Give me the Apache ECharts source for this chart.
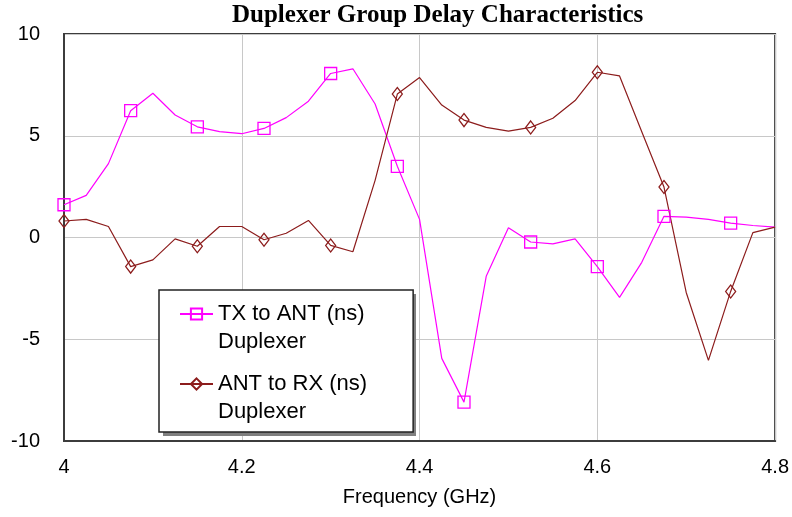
<!DOCTYPE html>
<html>
<head>
<meta charset="utf-8">
<title>Duplexer Group Delay Characteristics</title>
<script src="https://cdn.jsdelivr.net/npm/echarts@6/dist/echarts.min.js"></script>
<style>
  html, body { margin: 0; padding: 0; background: #fff; }
  #chart { width: 792px; height: 517px; }
</style>
</head>
<body>
<div id="chart"></div>
<script>
// frequency points (GHz)
var freq = [4.000, 4.025, 4.050, 4.075, 4.100, 4.125, 4.150, 4.175, 4.200, 4.225, 4.250,
            4.275, 4.300, 4.325, 4.350, 4.375, 4.400, 4.425, 4.450, 4.475, 4.500, 4.525,
            4.550, 4.575, 4.600, 4.625, 4.650, 4.675, 4.700, 4.725, 4.750, 4.775, 4.800];
// group delay, ns
var txDelay = [1.61, 2.07, 3.63, 6.23, 7.09, 6.02, 5.44, 5.20, 5.10, 5.36, 5.89,
               6.70, 8.06, 8.29, 6.56, 3.50, 0.89, -5.94, -8.09, -1.91, 0.48, -0.22,
               -0.31, -0.07, -1.43, -2.94, -1.22, 1.04, 1.00, 0.89, 0.71, 0.59, 0.51];
var rxDelay = [0.81, 0.89, 0.54, -1.43, -1.10, -0.07, -0.43, 0.54, 0.54, -0.11, 0.21,
               0.84, -0.39, -0.70, 2.81, 7.05, 7.86, 6.51, 5.77, 5.41, 5.23, 5.41,
               5.86, 6.73, 8.12, 7.94, 5.20, 2.48, -2.70, -6.04, -2.65, 0.24, 0.51];
var seriesNames = ['TX to ANT (ns)', 'ANT to RX (ns)'];
var yTicks = [-10, -5, 0, 5, 10];

var markerStep = 3; // a marker on every 3rd point

function buildData(values) {
  var out = [];
  for (var i = 0; i < freq.length; i++) {
    var item = { value: [freq[i], values[i]] };
    if (i % markerStep !== 0) {
      item.symbol = 'none';
    }
    out.push(item);
  }
  return out;
}

var chart = echarts.init(document.getElementById('chart'), null, { renderer: 'canvas' });

var option = {
  backgroundColor: '#fff',
  animation: false,
  title: {
    text: 'Duplexer Group Delay Characteristics',
    left: 227,
    top: -2,
    textStyle: {
      fontFamily: 'Liberation Serif',
      fontWeight: 'bold',
      fontSize: 25,
      color: '#000'
    }
  },
  grid: {
    left: 64,
    right: 16,
    top: 34,
    bottom: 76,
    show: true,
    borderColor: '#3c3c3c',
    borderWidth: 2,
    backgroundColor: '#fff'
  },
  // hard drop shadow behind the legend box
  graphic: [{
    type: 'rect',
    z: 3,
    silent: true,
    shape: { x: 163, y: 294, width: 253, height: 142 },
    style: { fill: '#7f7f7f' }
  }],
  legend: {
    orient: 'vertical',
    left: 159,
    top: 290,
    padding: [-18, 46, 6, 20],
    itemGap: -14,
    itemWidth: 33,
    itemHeight: 14,
    selectedMode: false,
    backgroundColor: '#fff',
    borderColor: '#222',
    borderWidth: 1.5,
    formatter: function (name) {
      return '\n' + name + '\nDuplexer';
    },
    textStyle: {
      fontFamily: 'Liberation Sans',
      fontSize: 22,
      lineHeight: 28,
      color: '#000'
    },
    data: seriesNames
  },
  xAxis: {
    type: 'value',
    min: 4,
    max: 4.8,
    interval: 0.2,
    name: 'Frequency (GHz)',
    nameLocation: 'middle',
    nameGap: 46,
    nameTextStyle: {
      fontFamily: 'Liberation Sans',
      fontSize: 20,
      color: '#000'
    },
    axisLine: { show: true, onZero: false, lineStyle: { color: '#3c3c3c', width: 2 } },
    axisTick: { show: false },
    axisLabel: {
      margin: 16,
      fontFamily: 'Liberation Sans',
      fontSize: 20,
      color: '#000'
    },
    splitLine: { show: true, lineStyle: { color: '#c8c8c8', width: 1 } }
  },
  yAxis: {
    type: 'value',
    min: yTicks[0],
    max: yTicks[yTicks.length - 1],
    interval: 5,
    axisLine: { show: true, lineStyle: { color: '#3c3c3c', width: 2 } },
    axisTick: { show: false },
    axisLabel: {
      margin: 24,
      padding: [3, 0, 0, 0],
      fontFamily: 'Liberation Sans',
      fontSize: 20,
      color: '#000'
    },
    splitLine: { show: true, lineStyle: { color: '#c8c8c8', width: 1 } }
  },
  series: [
    {
      name: seriesNames[0],
      type: 'line',
      symbol: 'rect',
      symbolSize: 12,
      lineStyle: { color: '#ff00ff', width: 1.2 },
      itemStyle: { color: 'rgba(255,255,255,0)', borderColor: '#ff00ff', borderWidth: 1.3 },
      data: buildData(txDelay)
    },
    {
      name: seriesNames[1],
      type: 'line',
      symbol: 'diamond',
      symbolSize: [10, 13],
      lineStyle: { color: '#8c1c1c', width: 1.2 },
      itemStyle: { color: 'rgba(255,255,255,0)', borderColor: '#8c1c1c', borderWidth: 1.3 },
      data: buildData(rxDelay)
    }
  ]
};

chart.setOption(option);
</script>
</body>
</html>
